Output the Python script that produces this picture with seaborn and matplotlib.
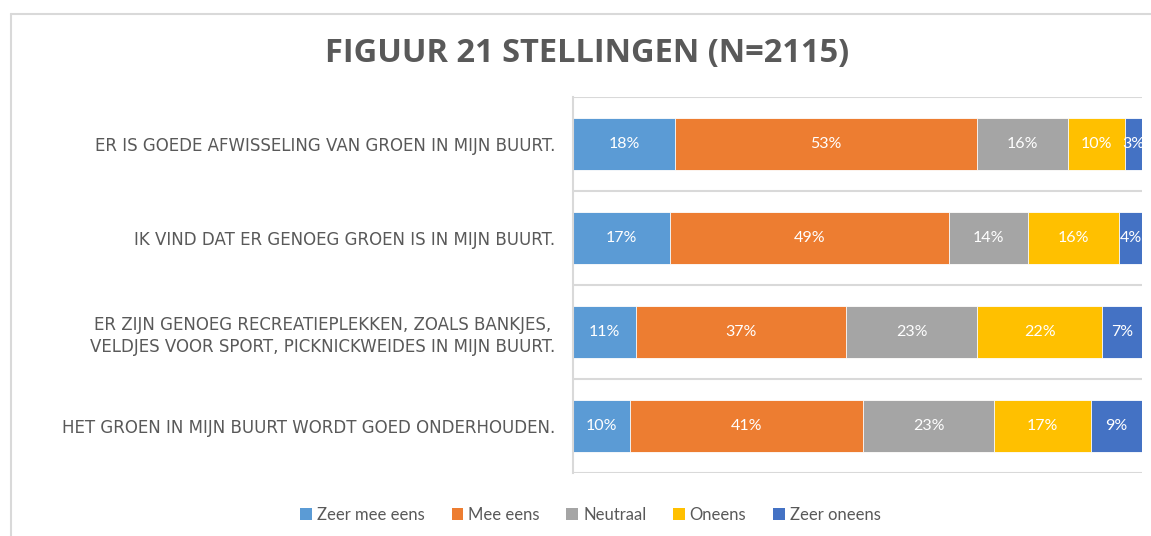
import matplotlib.pyplot as plt
import seaborn as sns
import numpy as np
from matplotlib.patches import Patch

# data
statements = [
    "ER IS GOEDE AFWISSELING VAN GROEN IN MIJN BUURT.",
    "IK VIND DAT ER GENOEG GROEN IS IN MIJN BUURT.",
    "ER ZIJN GENOEG RECREATIEPLEKKEN, ZOALS BANKJES,\nVELDJES VOOR SPORT, PICKNICKWEIDES IN MIJN BUURT.",
    "HET GROEN IN MIJN BUURT WORDT GOED ONDERHOUDEN.",
]
answers = ["Zeer mee eens", "Mee eens", "Neutraal", "Oneens", "Zeer oneens"]
zeer_mee_eens = [18, 17, 11, 10]
mee_eens = [53, 49, 37, 41]
neutraal = [16, 14, 23, 23]
oneens = [10, 16, 22, 17]
zeer_oneens = [3, 4, 7, 9]
colors = ["#5B9BD5", "#ED7D31", "#A5A5A5", "#FFC000", "#4472C4"]

values = np.array([zeer_mee_eens, mee_eens, neutraal, oneens, zeer_oneens])
cum = values.cumsum(axis=0)

sns.set_style("white")
plt.rcParams['font.family'] = ['Lato', 'DejaVu Sans']
txt_grey = "#595959"
grid_grey = "#D9D9D9"

fig = plt.figure(figsize=(11.51, 5.36), dpi=100)
ax = fig.add_axes([573 / 1151, 63 / 536, 569 / 1151, 376 / 536])

# stacked bars: draw cumulative totals from the largest down so they overlap
for i in range(len(answers) - 1, -1, -1):
    sns.barplot(x=cum[i], y=statements, color=colors[i], orient="h", saturation=1,
                width=0.55, edgecolor="white", linewidth=0.6, ax=ax)

# value labels in the middle of each segment
for i in range(len(answers)):
    for j in range(len(statements)):
        ax.text(cum[i, j] - values[i, j] / 2, j, f"{values[i, j]}%",
                ha="center", va="center", color="white", fontsize=11.5)

ax.set_xlim(0, 100)
ax.set_ylim(3.5, -0.5)
ax.set_xlabel("")
ax.set_ylabel("")
ax.set_xticks([])

ax.set_yticks(range(len(statements)), statements, family="DejaVu Sans",
              fontsize=12, color=txt_grey, multialignment="center", linespacing=1.25)

# lines between the categories
ax.set_yticks(np.arange(-0.5, 4, 1), minor=True)
ax.grid(True, which="minor", axis="y", color=grid_grey, linewidth=1.5)
ax.set_axisbelow(True)
ax.tick_params(axis="y", which="both", length=0, pad=13)

for s in ["top", "right", "bottom"]:
    ax.spines[s].set_visible(False)
ax.spines["left"].set_color(grid_grey)
ax.spines["left"].set_linewidth(1.5)

fig.text(0.51, 0.9, "FIGUUR 21 STELLINGEN (N=2115)", ha="center", va="center",
         fontsize=23.5, fontweight="bold", color=txt_grey, family="Open Sans")

handles = [Patch(facecolor=c, edgecolor="none") for c in colors]
fig.legend(handles, answers, loc="center", bbox_to_anchor=(0.513, 0.04), ncol=5,
           frameon=False, fontsize=12, labelcolor=txt_grey, handlelength=0.7,
           handleheight=0.7, handletextpad=0.3, columnspacing=1.6)

# outer chart border (left and top only visible)
fig.add_artist(plt.Line2D([10.5 / 1151, 10.5 / 1151], [0, 1 - 13.5 / 536],
                          transform=fig.transFigure, color=grid_grey, linewidth=1.5))
fig.add_artist(plt.Line2D([10.5 / 1151, 1], [1 - 13.5 / 536, 1 - 13.5 / 536],
                          transform=fig.transFigure, color=grid_grey, linewidth=1.5))

fig.savefig("out.png", dpi=100)
